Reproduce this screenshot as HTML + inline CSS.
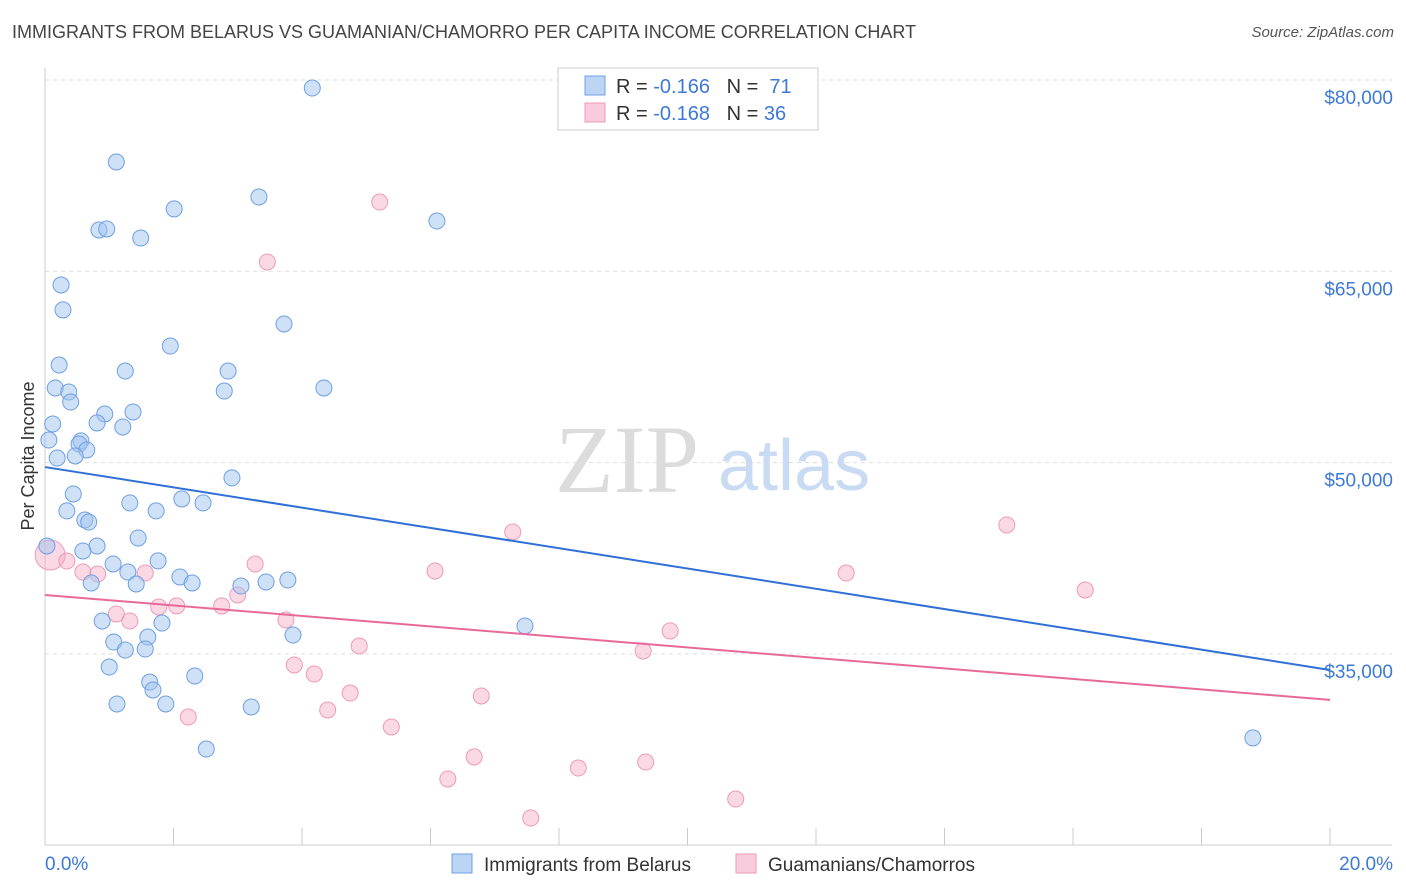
<!DOCTYPE html>
<html><head><meta charset="utf-8">
<style>
body{margin:0;background:#fff;font-family:"Liberation Sans",sans-serif;}
#wrap{position:relative;width:1406px;height:892px;overflow:hidden;}
.title{position:absolute;left:12px;top:22px;font-size:18px;color:#444;}
.source{position:absolute;right:12px;top:24px;font-size:15px;color:#555;font-style:italic;}
</style></head><body>
<div id="wrap">
<div class="title">IMMIGRANTS FROM BELARUS VS GUAMANIAN/CHAMORRO PER CAPITA INCOME CORRELATION CHART</div>
<div class="source">Source: ZipAtlas.com</div>
<svg id="svg" width="1406" height="892" style="position:absolute;left:0;top:0"></svg>
</div>
<script>
const blueX=[4.16,1.11,3.33,2.01,6.10,0.84,0.96,1.49,0.25,0.28,3.72,1.95,0.22,1.25,2.85,0.16,0.37,2.79,4.34,0.40,1.37,0.93,0.81,1.21,0.12,0.06,0.56,0.53,0.65,0.19,0.47,2.91,0.44,1.32,2.13,2.46,0.34,1.73,0.62,0.68,1.45,0.81,0.03,0.59,1.06,1.76,1.29,2.10,2.29,1.42,0.72,3.05,3.44,3.78,0.89,1.82,3.86,1.60,1.07,1.56,1.25,1.00,2.33,1.63,1.68,1.12,1.88,3.21,2.51,7.47,18.80];
const blueY=[79370,73570,70830,69890,68940,68240,68320,67610,63930,61970,60870,59140,57650,57180,57180,55850,55540,55610,55850,54750,53970,53810,53110,52790,53030,51770,51700,51460,50990,50360,50520,48800,47540,46840,47150,46840,46210,46210,45500,45340,44090,43460,43460,43070,42050,42290,41420,41030,40560,40480,40560,40320,40640,40790,37580,37420,36480,36320,35930,35380,35300,33970,33270,32790,32170,31070,31070,30840,27540,37190,28410];
const pinkX=[5.21,3.46,7.28,14.97,6.07,12.47,16.19,0.08,0.34,0.82,0.59,1.56,3.27,3.00,2.75,1.77,2.05,1.11,1.32,3.75,9.73,9.31,4.89,3.88,4.19,4.75,6.79,2.23,4.40,5.39,6.68,6.27,8.30,9.35,10.75,7.56];
const pinkY=[70430,65730,44560,45110,41500,41340,40010,42750,42280,41260,41420,41340,42050,39620,38760,38680,38760,38130,37580,37660,36800,35230,35620,34130,33420,31930,31700,30050,30600,29270,26920,25190,26050,26520,23620,22130];
const blueTrend=[49650,33740];
const pinkTrend=[39620,31390];
const yTicks=[80000,65000,50000,35000];
const yTickLabels=["$80,000","$65,000","$50,000","$35,000"];
const xTicks=[0,2,4,6,8,10,12,14,16,18,20];

const NS="http://www.w3.org/2000/svg";
const svg=document.getElementById('svg');
const X=v=>45+v*64.25;
const Y=v=>80+(80000-v)*0.012753;
function mk(t,a){const e=document.createElementNS(NS,t);for(const k in a)e.setAttribute(k,a[k]);svg.appendChild(e);return e;}

yTicks.forEach((t,i)=>{
 const g=mk('line',{x1:45,x2:1392,y1:Y(t),y2:Y(t),stroke:'#ddd','stroke-dasharray':'4,4'});
 
 
 const l=mk('text',{x:1393,y:Y(t)+24,'text-anchor':'end','font-size':19,fill:'#3d79d8'});
 l.textContent=yTickLabels[i];
 
 
});
const ax=mk('line',{x1:45,x2:45,y1:68,y2:845,stroke:'#ccc'});


const bx=mk('line',{x1:45,x2:1392,y1:845,y2:845,stroke:'#ccc'});


xTicks.forEach(t=>{
 const k=mk('line',{x1:X(t),x2:X(t),y1:828,y2:845,stroke:'#ccc'});
 
 
});
const x0=mk('text',{x:45,y:870,'font-size':19,fill:'#3d79d8'});x0.textContent='0.0%';


const x1=mk('text',{x:1393,y:870,'text-anchor':'end','font-size':19,fill:'#3d79d8'});x1.textContent='20.0%';


const yt=mk('text',{x:34,y:456,'text-anchor':'middle','font-size':18,fill:'#333',transform:'rotate(-90 34 456)'});yt.textContent='Per Capita Income';


const w1=mk('text',{x:555,y:492,'font-size':96,fill:'#dcdcdc','font-family':'Liberation Serif'});w1.textContent='ZIP';


const w2=mk('text',{x:718,y:490,'font-size':72,fill:'#c9daf3'});w2.textContent='atlas';



pinkX.forEach((x,i)=>{
 const c=mk('circle',{cx:X(x),cy:Y(pinkY[i]),r:i==7?15:8,fill:'rgba(244,170,196,0.45)',stroke:'#ee9ab7','stroke-width':1});
 
 
});
blueX.forEach((x,i)=>{
 const c=mk('circle',{cx:X(x),cy:Y(blueY[i]),r:8,fill:'rgba(160,195,240,0.5)',stroke:'#6f9fe2','stroke-width':1});
 
 
});
const tb=mk('line',{x1:X(0),x2:X(20),y1:Y(blueTrend[0]),y2:Y(blueTrend[1]),stroke:'#2f6fd6','stroke-width':2});


const tp=mk('line',{x1:X(0),x2:X(20),y1:Y(pinkTrend[0]),y2:Y(pinkTrend[1]),stroke:'#e7699a','stroke-width':2});



// top legend
const lb=mk('rect',{x:558,y:68,width:260,height:62,fill:'#fff',stroke:'#ccc'});


[[76,'rgba(160,195,240,0.7)','#6f9fe2','-0.166','71'],[103,'rgba(244,170,196,0.6)','#ee9ab7','-0.168','36']].forEach((r,i)=>{
 const s=mk('rect',{x:585,y:r[0],width:20,height:19,fill:r[1],stroke:r[2]});
 
 
 const t=mk('text',{x:616,y:r[0]+17,'font-size':20,fill:'#333'});
 t.innerHTML='R = <tspan fill="#3d79d8">'+r[3]+'</tspan>&#160;&#160;&#160;N = <tspan fill="#3d79d8">'+(r[4]=='71'?'&#160;71':r[4])+'</tspan>';
 
 
});
// bottom legend
[[452,'rgba(160,195,240,0.7)','#6f9fe2','Immigrants from Belarus'],[736,'rgba(244,170,196,0.6)','#ee9ab7','Guamanians/Chamorros']].forEach(r=>{
 const s=mk('rect',{x:r[0],y:854,width:20,height:19,fill:r[1],stroke:r[2]});
 
 
 const t=mk('text',{x:r[0]+32,y:871,'font-size':19,fill:'#333'});t.textContent=r[3];
 
 
});
</script>
</body></html>
